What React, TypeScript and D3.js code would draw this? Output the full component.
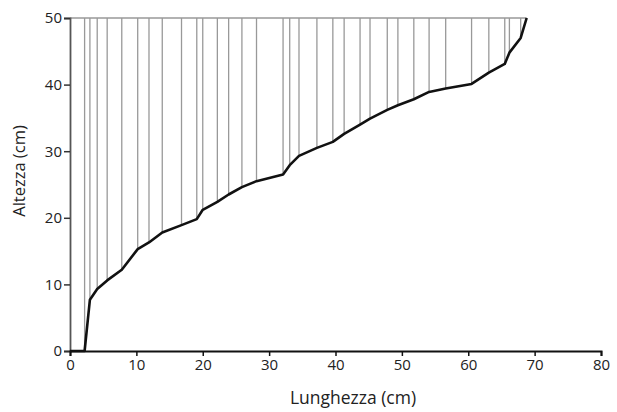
import { useEffect, useRef } from "react";
import * as d3 from "d3";

const WIDTH = 617;
const HEIGHT = 412;
const MARGIN = { top: 18, right: 16, bottom: 61, left: 70 };

// profile of the curve: length (cm) vs height (cm)
const lengths = [
  0, 2.2, 3.0, 4.1, 5.6, 7.8, 10.2, 11.9, 13.9, 16.8, 19.1, 20.0, 22.2, 23.9,
  25.9, 28.1, 32.1, 33.1, 34.5, 37.2, 39.6, 41.3, 43.7, 45.2, 47.8, 49.4, 51.8,
  54.1, 56.6, 60.5, 63.1, 65.5, 66.2, 67.9, 68.8,
];
const heights = [
  0, 0, 7.7, 9.3, 10.6, 12.2, 15.3, 16.3, 17.8, 18.9, 19.8, 21.2, 22.4, 23.5,
  24.6, 25.5, 26.5, 27.9, 29.3, 30.5, 31.4, 32.6, 34.0, 34.9, 36.2, 36.9, 37.8,
  38.9, 39.4, 40.1, 41.8, 43.1, 44.8, 47.0, 50,
];
const xTicks = [0, 10, 20, 30, 40, 50, 60, 70, 80];
const yTicks = [0, 10, 20, 30, 40, 50];
const xLabel = "Lunghezza (cm)";
const yLabel = "Altezza (cm)";

type Pt = { x: number; y: number };

const FONT = "'Open Sans', sans-serif";

export default function App() {
  const xAxisRef = useRef<SVGGElement>(null);
  const yAxisRef = useRef<SVGGElement>(null);
  const boundsWidth = WIDTH - MARGIN.left - MARGIN.right;
  const boundsHeight = HEIGHT - MARGIN.top - MARGIN.bottom;

  const xScale = d3.scaleLinear().domain([0, 80]).range([0, boundsWidth]);
  const yScale = d3.scaleLinear().domain([0, 50]).range([boundsHeight, 0]);

  const points: Pt[] = lengths.map((l, i) => ({ x: l, y: heights[i] }));
  const lineBuilder = d3
    .line<Pt>()
    .x((d) => xScale(d.x))
    .y((d) => yScale(d.y));

  useEffect(() => {
    const xg = d3.select(xAxisRef.current);
    xg.selectAll("*").remove();
    xg.call(d3.axisBottom(xScale).tickValues(xTicks).tickSize(5).tickPadding(3));
    xg.select(".domain").attr("stroke", "#111").attr("stroke-width", 2);
    xg.selectAll(".tick line").attr("stroke", "#111").attr("stroke-width", 1.5);
    xg.selectAll(".tick text")
      .attr("font-family", FONT)
      .attr("font-size", 15)
      .attr("fill", "#222");

    const yg = d3.select(yAxisRef.current);
    yg.selectAll("*").remove();
    yg.call(d3.axisLeft(yScale).tickValues(yTicks).tickSize(6).tickPadding(2));
    yg.select(".domain").attr("stroke", "#555").attr("stroke-width", 1.8);
    yg.selectAll(".tick line").attr("stroke", "#333").attr("stroke-width", 1.5);
    yg.selectAll(".tick text")
      .attr("font-family", FONT)
      .attr("font-size", 15)
      .attr("fill", "#222");
  }, []);

  const drops = points.slice(1, -1);

  return (
    <svg
      width={WIDTH}
      height={HEIGHT}
      style={{ position: "absolute", left: 0, top: 0, background: "#fff" }}
    >
      <g transform={`translate(${MARGIN.left},${MARGIN.top})`}>
        {/* top reference line */}
        <line
          x1={xScale(0)}
          x2={xScale(lengths[lengths.length - 1])}
          y1={yScale(50)}
          y2={yScale(50)}
          stroke="#999"
          strokeWidth={1.3}
        />
        {/* vertical drops from the top line to the curve */}
        {drops.map((d, i) => (
          <line
            key={i}
            x1={xScale(d.x)}
            x2={xScale(d.x)}
            y1={yScale(50)}
            y2={yScale(d.y)}
            stroke="#999"
            strokeWidth={1.3}
          />
        ))}
        <g ref={yAxisRef} />
        <g ref={xAxisRef} transform={`translate(0,${boundsHeight})`} />
        <path
          d={lineBuilder(points) || ""}
          fill="none"
          stroke="#111"
          strokeWidth={2.6}
          strokeLinejoin="round"
        />
      </g>
      <text
        x={353}
        y={404}
        textAnchor="middle"
        fontFamily={FONT}
        fontSize={17.5}
        fill="#222"
      >
        {xLabel}
      </text>
      <text
        transform={`translate(25,171) rotate(-90)`}
        textAnchor="middle"
        fontFamily={FONT}
        fontSize={16.5}
        fill="#222"
      >
        {yLabel}
      </text>
    </svg>
  );
}
